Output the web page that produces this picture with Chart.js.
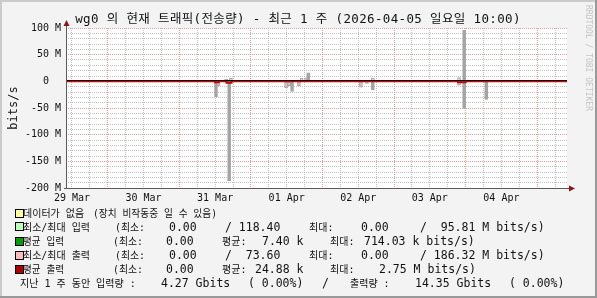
<!DOCTYPE html>
<html>
<head>
<meta charset="utf-8">
<script src="https://cdn.jsdelivr.net/npm/chart.js@4"></script>
<style>
html,body{margin:0;padding:0;background:#f3f3f3;}
canvas{display:block;}
</style>
</head>
<body>
<canvas id="trafficChart" width="597" height="298"></canvas>
<script>
// x = hours since 2026-03-29 10:00 (one week window)
const dayLabels = ['29 Mar', '30 Mar', '31 Mar', '01 Apr', '02 Apr', '03 Apr', '04 Apr'];
const yLabels = {100: '100 M', 50: '50 M', 0: '0  ', '-50': '-50 M', '-100': '-100 M', '-150': '-150 M', '-200': '-200 M'};

// min/max input, M bits/s (min is 0)
const inTimes = [49.6, 53.7, 55.3, 73.8, 79.0, 80.5, 81.2, 98.9, 102.9, 131.8, 133.5];
const inMax   = [2, 4, 6, 2, 6, 6, 16, 2, 6, 7, 95.81];

// min/max output, M bits/s (drawn below zero)
const outTimes = [50.3, 51.0, 54.7, 73.8, 74.8, 75.8, 78.1, 98.9, 100.9, 102.9, 131.8, 133.5, 140.9];
const outMax   = [29, 8, 186.32, 12, 8, 19, 8, 11, 4, 16, 7, 51, 34];

// averages, M bits/s
const avgInTimes  = [0, 80.8, 81.6, 168];
const avgIn       = [0.007, 0.714, 0.007, 0.007];
const avgOutTimes = [0, 50.0, 51.2, 53.8, 55.5, 131.5, 134.0, 168];
const avgOut      = [0.02, 1.5, 0.02, 2.75, 0.02, 1.5, 0.02, 0.02];

const MONO = "'DejaVu Sans Mono', 'Noto Sans CJK KR'";
const RED_GRID = 'rgba(235,120,120,0.75)';
const GRAY_GRID = 'rgba(170,170,170,0.7)';
const SPIKE = '#A3A3A3';

const xTicks = [];
for (let h = 2; h <= 166; h += 6) xTicks.push(h);
const yTicks = [];
for (let v = -200; v <= 100; v += 10) yTicks.push(v);

const legendRows = [
  {y: 217, box: '#FFFF99', boxY: 210, segs: [[23, '데이터가 없음', 62], [93, '(장치 비작동중 일 수 있음)', 124]]},
  {y: 231, box: '#BBFFBB', boxY: 223, segs: [[23, '최소/최대 입력', 67], [115, '(최소:', 30], [169, '0.00'], [225, '/ 118.40'], [309, '최대:', 25], [361, '0.00'], [420, '/  95.81 M bits/s)']]},
  {y: 245, box: '#00A000', boxY: 238, segs: [[23, '평균 입력', 41], [113, '(최소:', 30], [166, '0.00'], [222, '평균:', 25], [262, '7.40 k'], [330, '최대:', 25], [364, '714.03 k bits/s)']]},
  {y: 259, box: '#FFBBBB', boxY: 252, segs: [[23, '최소/최대 출력', 67], [115, '(최소:', 30], [169, '0.00'], [225, '/  73.60'], [309, '최대:', 25], [361, '0.00'], [420, '/ 186.32 M bits/s)']]},
  {y: 273, box: '#B00000', boxY: 266, segs: [[23, '평균 출력', 41], [113, '(최소:', 30], [166, '0.00'], [222, '평균:', 25], [255, '24.88 k'], [330, '최대:', 25], [379, '2.75 M bits/s)']]},
  {y: 287, segs: [[20, '지난 1 주 동안 입력량 :', 118], [161, '4.27 Gbits'], [248, '( 0.00%)'], [322, '/'], [350, '출력량 :', 42], [415, '14.35 Gbits'], [509, '( 0.00%)']]}
];

// tall min/max ranges show as solid grey spikes, short ones keep their tint
function rangeFill(tint) {
  return c => {
    const r = c.raw && c.raw.y;
    return r && Math.abs(r[1] - r[0]) >= 15 ? SPIKE : tint;
  };
}

const rrdFrame = {
  id: 'rrdFrame',
  beforeDraw(chart) {
    const ctx = chart.ctx, a = chart.chartArea;
    ctx.save();
    ctx.fillStyle = '#F3F3F3';
    ctx.fillRect(0, 0, chart.width, chart.height);
    ctx.fillStyle = '#CBCBCB';
    ctx.fillRect(0, 0, chart.width, 2);
    ctx.fillRect(0, 0, 2, chart.height);
    ctx.fillStyle = '#999999';
    ctx.fillRect(0, chart.height - 2, chart.width, 2);
    ctx.fillRect(chart.width - 2, 0, 2, chart.height);
    ctx.fillStyle = '#FFFFFF';
    ctx.fillRect(a.left, a.top, a.right - a.left, a.bottom - a.top);
    ctx.restore();
  },
  afterDatasetsDraw(chart) {
    const ctx = chart.ctx, a = chart.chartArea;
    const y0 = Math.round(chart.scales.y.getPixelForValue(0));
    ctx.save();
    ctx.fillStyle = '#000000';
    ctx.fillRect(a.left, y0 - 1, a.right - a.left, 1);
    ctx.restore();
  },
  afterDraw(chart) {
    const ctx = chart.ctx, a = chart.chartArea;
    ctx.save();
    // axes
    ctx.fillStyle = '#5A5A5A';
    ctx.fillRect(a.left, a.top - 5, 1, a.bottom - a.top + 6);
    ctx.fillRect(a.left - 2, a.bottom, a.right - a.left + 5, 1);
    ctx.fillStyle = '#8E1515';
    ctx.beginPath();
    ctx.moveTo(a.left + 0.5, a.top - 8);
    ctx.lineTo(a.left - 2.5, a.top - 2);
    ctx.lineTo(a.left + 3.5, a.top - 2);
    ctx.closePath(); ctx.fill();
    ctx.beginPath();
    ctx.moveTo(a.right + 8, a.bottom + 0.5);
    ctx.lineTo(a.right + 2, a.bottom - 2.5);
    ctx.lineTo(a.right + 2, a.bottom + 3.5);
    ctx.closePath(); ctx.fill();

    // title
    ctx.fillStyle = '#111';
    ctx.textBaseline = 'alphabetic';
    ctx.textAlign = 'center';
    ctx.font = '12.5px ' + MONO;
    ctx.letterSpacing = '0.35px';
    ctx.fillText('wg0 의 현재 트래픽(전송량) - 최근 1 주 (2026-04-05 일요일 10:00)', 298, 23);
    ctx.letterSpacing = '0px';

    // y title
    ctx.save();
    ctx.translate(17, (a.top + a.bottom) / 2);
    ctx.rotate(-Math.PI / 2);
    ctx.font = '12px ' + MONO;
    ctx.fillText('bits/s', 0, 0);
    ctx.restore();

    // watermark
    ctx.save();
    ctx.translate(585.5, 5);
    ctx.rotate(Math.PI / 2);
    ctx.textAlign = 'left';
    ctx.fillStyle = '#C4C4C4';
    ctx.font = "8px 'DejaVu Sans Mono'";
    ctx.fillText('RRDTOOL / TOBI OETIKER', 0, 0);
    ctx.restore();

    // legend
    ctx.textAlign = 'left';
    legendRows.forEach(row => {
      if (row.box) {
        ctx.fillStyle = row.box;
        ctx.fillRect(16, row.boxY, 7, 7);
        ctx.strokeStyle = '#000';
        ctx.lineWidth = 1;
        ctx.strokeRect(15.5, row.boxY - 0.5, 8, 8);
      }
      ctx.fillStyle = '#111';
      row.segs.forEach(([x, s, w]) => {
        if (/[가-힣]/.test(s)) {
          ctx.font = '10px ' + MONO;
          ctx.fillText(s, x, row.y, w);
        } else {
          ctx.font = '11.5px ' + MONO;
          ctx.fillText(s, x, row.y);
        }
      });
    });
    ctx.restore();
  }
};

new Chart(document.getElementById('trafficChart'), {
  type: 'bar',
  data: {
    datasets: [
      {
        type: 'line', label: '평균 출력',
        data: avgOutTimes.map((t, i) => ({x: t, y: -avgOut[i]})),
        borderColor: '#D00000', borderWidth: 2, pointRadius: 0, stepped: true
      },
      {
        type: 'line', label: '평균 입력',
        data: avgInTimes.map((t, i) => ({x: t, y: avgIn[i]})),
        borderColor: '#00A000', borderWidth: 1, pointRadius: 0, stepped: true
      },
      {
        label: '최소/최대 입력',
        data: inTimes.map((t, i) => ({x: t, y: [0, inMax[i]]})),
        backgroundColor: rangeFill('#B8F5B8'), borderColor: SPIKE, borderWidth: 1,
        borderSkipped: false, barThickness: 3, grouped: false
      },
      {
        label: '최소/최대 출력',
        data: outTimes.map((t, i) => ({x: t, y: [-outMax[i], 0]})),
        backgroundColor: rangeFill('#F5B8B8'), borderColor: SPIKE, borderWidth: 1,
        borderSkipped: false, barThickness: 3, grouped: false
      }
    ]
  },
  options: {
    responsive: false,
    animation: false,
    devicePixelRatio: 1,
    layout: {padding: {left: 0, top: 28, right: 30, bottom: 0}},
    plugins: {legend: {display: false}, tooltip: {enabled: false}, title: {display: false}},
    scales: {
      x: {
        type: 'linear', min: 0, max: 168, offset: false,
        afterFit(s) { s.height = 110; },
        afterBuildTicks(s) { s.ticks = xTicks.map(v => ({value: v})); },
        grid: {
          offset: false, drawTicks: false, lineWidth: 1,
          color: c => ((c.tick.value - 14) % 24 === 0 ? RED_GRID : GRAY_GRID)
        },
        border: {display: false, dash: [1, 1]},
        ticks: {
          autoSkip: false, maxRotation: 0, padding: 4, color: '#111',
          font: {family: MONO, size: 10},
          callback: v => ((v - 2) % 24 === 0 ? dayLabels[(v - 2) / 24] : '')
        }
      },
      y: {
        type: 'linear', min: -200, max: 100,
        afterFit(s) { s.width = 66; },
        afterBuildTicks(s) { s.ticks = yTicks.map(v => ({value: v})); },
        grid: {
          drawTicks: false, lineWidth: 1,
          color: c => (c.tick.value % 50 === 0 ? RED_GRID : GRAY_GRID)
        },
        border: {display: false, dash: [1, 1]},
        ticks: {
          autoSkip: false, padding: 5, color: '#111',
          font: {family: MONO, size: 10},
          callback: v => (v % 50 === 0 ? yLabels[v] : '')
        }
      }
    }
  },
  plugins: [rrdFrame]
});
</script>
</body>
</html>
